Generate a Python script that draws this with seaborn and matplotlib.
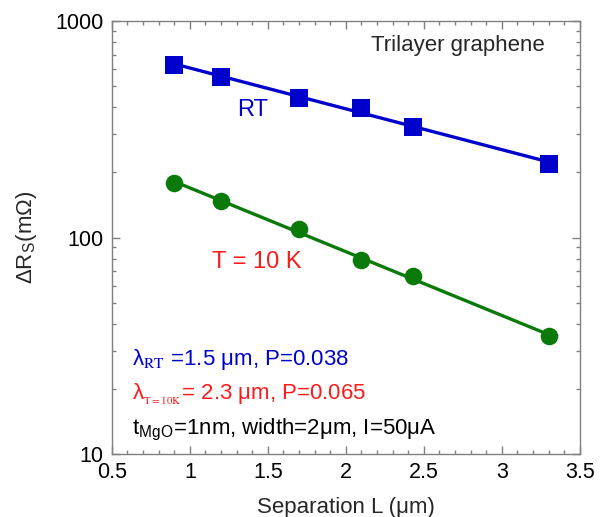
import numpy as np
import pandas as pd
import seaborn as sns
import matplotlib.pyplot as plt
from matplotlib.ticker import FixedLocator, MultipleLocator, LogLocator, NullFormatter

# values
sep_L = [0.9, 1.2, 1.7, 2.1, 2.43, 3.3]
dR_rt = [627, 555, 440, 399, 326, 219]
dR_10k = [179, 147, 109, 78.6, 66.2, 35.0]
x_ticks = [0.5, 1, 1.5, 2, 2.5, 3, 3.5]
x_tick_labels = ["0.5", "1", "1.5", "2", "2.5", "3", "3.5"]
y_ticks = [10, 100, 1000]
y_tick_labels = ["10", "100", "1000"]

blue = "#0000CC"
green = "#0A7A0A"
red = "#FF1A1A"

sns.set_style("ticks")
plt.rcParams["font.family"] = ["Liberation Sans", "DejaVu Sans"]
plt.rcParams["mathtext.fontset"] = "stix"

df = pd.DataFrame({"L": sep_L, "RT": dR_rt, "T10K": dR_10k})

# exponential fits (straight lines on log scale)
x_fit = np.array([sep_L[0], sep_L[-1]])
fits = {}
for col in ["RT", "T10K"]:
    k, b = np.polyfit(df["L"], np.log10(df[col]), 1)
    fits[col] = 10 ** (k * x_fit + b)

fig = plt.figure(figsize=(6.11, 5.17), dpi=100)
ax = fig.add_axes([0.183, 0.122, 0.766, 0.837])

sns.lineplot(x=x_fit, y=fits["RT"], color=blue, lw=2.4, ax=ax)
sns.lineplot(x=x_fit, y=fits["T10K"], color=green, lw=2.4, ax=ax)
sns.scatterplot(data=df, x="L", y="RT", marker="s", s=150, color=blue,
                edgecolor=blue, linewidth=0, ax=ax, zorder=3)
sns.scatterplot(data=df, x="L", y="T10K", marker="o", s=160, color=green,
                edgecolor=green, linewidth=0, ax=ax, zorder=3)

ax.set_yscale("log")
ax.set_xlim(0.5, 3.5)
ax.set_ylim(10, 1000)
ax.set_xticks(x_ticks)
ax.set_xticklabels(x_tick_labels)
ax.xaxis.set_minor_locator(MultipleLocator(0.1))
ax.yaxis.set_major_locator(FixedLocator(y_ticks))
ax.set_yticklabels(y_tick_labels)
ax.yaxis.set_minor_locator(LogLocator(base=10, subs=np.arange(2, 10)))
ax.yaxis.set_minor_formatter(NullFormatter())

ax.tick_params(which="both", direction="in", top=True, right=True,
               color="#808080", labelsize=15.5, labelcolor="black")
ax.tick_params(which="major", length=6, width=1, pad=6)
ax.tick_params(which="minor", length=3, width=1)
for sp in ax.spines.values():
    sp.set_color("#808080")
    sp.set_linewidth(1)

ax.set_xlabel("Separation L (μm)", fontsize=16, labelpad=10)
ax.set_ylabel(r"ΔR$_\mathregular{S}$(mΩ)", fontsize=16, labelpad=12)

ax.text(2.72, 775, "Trilayer graphene", fontsize=16, ha="center", va="center")
ax.text(1.40, 389, "RT", fontsize=17, color=blue, ha="center", va="center")
ax.text(1.43, 77, "T = 10 K", fontsize=17, color=red, ha="center", va="center")
ax.text(0.043, 0.218, r"λ$_{\mathrm{RT}}$ =1.5 μm, P=0.038", fontsize=16,
        color=blue, transform=ax.transAxes, va="center")
ax.text(0.043, 0.137, r"λ$_{_{\mathrm{T=10K}}}$= 2.3 μm, P=0.065", fontsize=16,
        color=red, transform=ax.transAxes, va="center")
ax.text(0.043, 0.056, r"t$_\mathregular{MgO}$=1nm, width=2μm, I=50μA", fontsize=16,
        color="black", transform=ax.transAxes, va="center")

fig.savefig("out.png", dpi=100)
